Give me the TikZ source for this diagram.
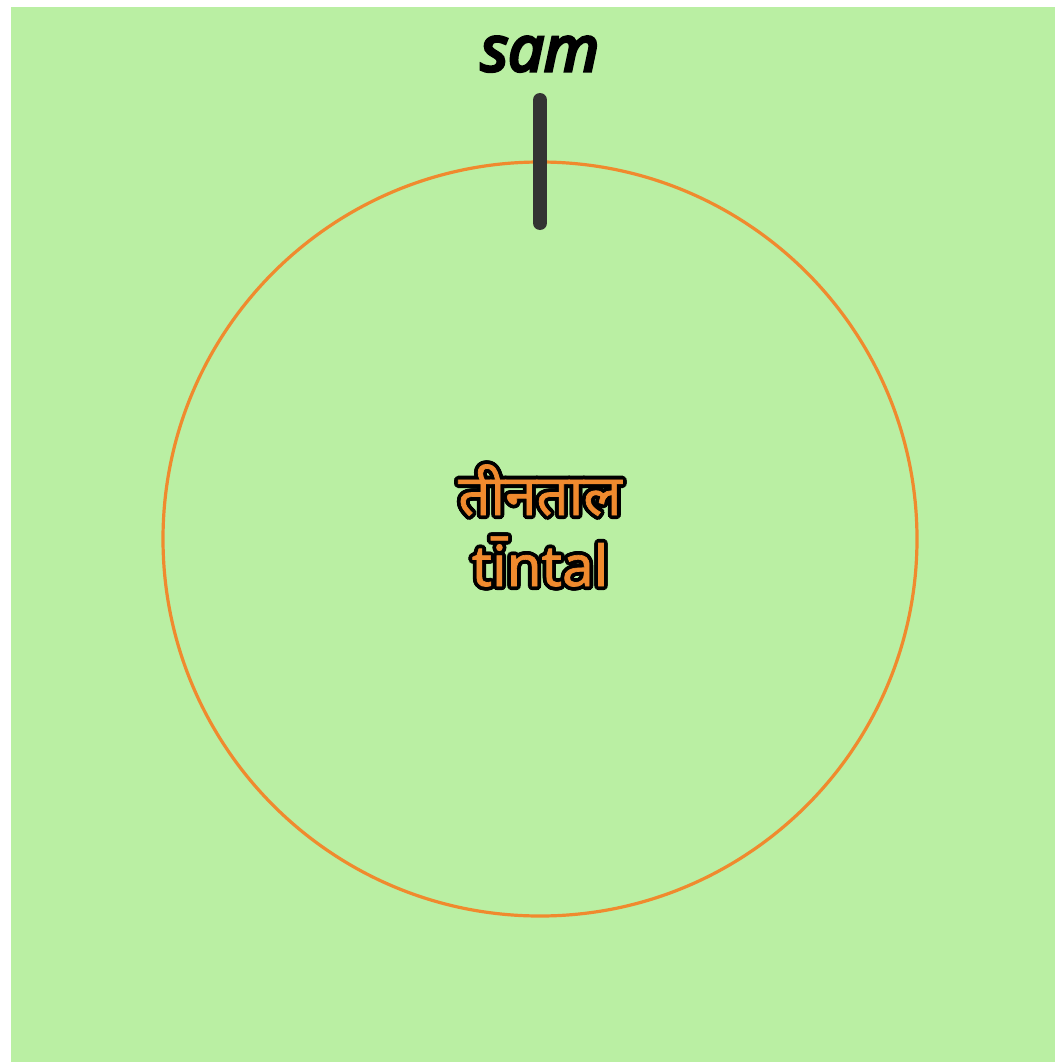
\documentclass[tikz,border=0pt]{standalone}
\usepackage{fontspec}
\usetikzlibrary{calc}
\newfontfamily\deva[Script=Devanagari, FakeBold=1.2]{Noto Sans}
\newfontfamily\samfont[ItalicFeatures={FakeBold=5}]{Noto Sans}
\definecolor{bggreen}{HTML}{BAEFA3}
\definecolor{ringorange}{HTML}{F08A2E}
\definecolor{tickgray}{HTML}{333333}
\tikzset{
  ringstyle/.style={circle, draw=ringorange, line width=3.2pt, minimum size=754pt, inner sep=0pt},
  tickstyle/.style={draw=tickgray, line width=14pt, line cap=round},
  samlabel/.style={font=\samfont\itshape\fontsize{63}{63}\selectfont, text=black, anchor=base, inner sep=0pt},
  talfont/.style={font=\deva\fontsize{56.5}{56.5}\selectfont, anchor=base, inner sep=0pt},
  talshadow/.style={talfont, text=black},
  talfront/.style={talfont, text=ringorange}
}
\begin{document}
\begin{tikzpicture}[x=1pt,y=-1pt]
\useasboundingbox (0,0) rectangle (1055,1062);
\fill[white] (0,0) rectangle (1055,1062);
\fill[bggreen] (11,7) rectangle (1055,1062);
\node[ringstyle] (tal) at (540,539) {};
\coordinate (samtop) at (540,100);
\coordinate (sambot) at (540,223);
\draw[tickstyle] (samtop) -- (sambot);
\node[samlabel] (sam) at (540,71) {sam};
\foreach \a in {0,22.5,...,337.5}{
  \node[talshadow] at ($(540,515)+(\a:3.8)$) {तीनताल};
  \node[talshadow] at ($(540,586)+(\a:3.8)$) {tīntal};
}
\node[talfront] (hindi) at (540,515) {तीनताल};
\node[talfront] (latin) at (540,586) {tīntal};
\end{tikzpicture}
\end{document}
